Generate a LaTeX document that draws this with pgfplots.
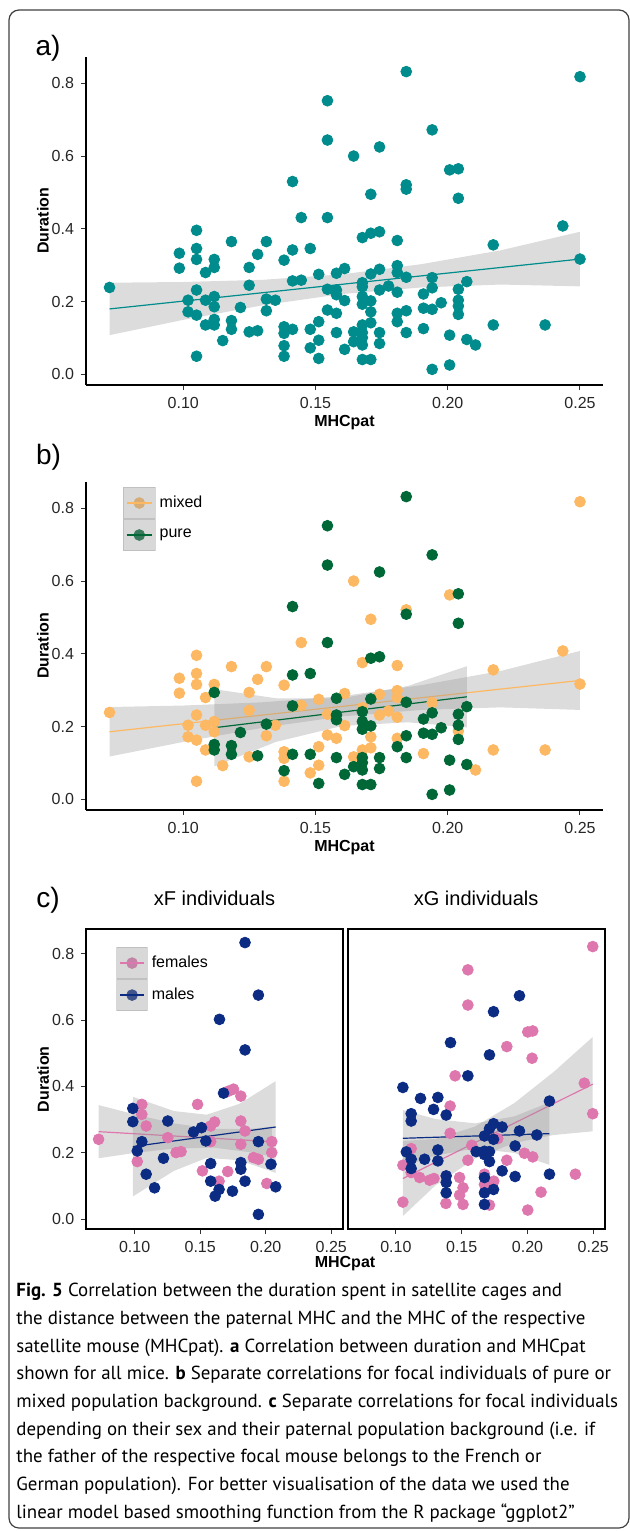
\documentclass[border=0pt]{standalone}
\usepackage{pgfplots}
\pgfplotsset{compat=1.18}
\usepackage{pgfplotstable}
\usepackage{fontspec}
\setmainfont{Liberation Sans}
\newfontfamily\capfont{PT Sans}

\definecolor{tealc}{RGB}{0,140,140}
\definecolor{mixedc}{RGB}{253,184,99}
\definecolor{purec}{RGB}{0,104,55}
\definecolor{femc}{RGB}{222,119,174}
\definecolor{malec}{RGB}{12,44,132}
\definecolor{bandc}{RGB}{153,153,153}

% mixed / pure population background (panel a uses both)
\pgfplotstableread{
x y
0.0721 0.239
0.0985 0.333
0.0985 0.292
0.1018 0.204
0.1018 0.172
0.1050 0.396
0.1050 0.346
0.1050 0.316
0.1050 0.232
0.1050 0.163
0.1050 0.050
0.1084 0.280
0.1084 0.204
0.1084 0.136
0.1117 0.316
0.1117 0.214
0.1117 0.186
0.1149 0.093
0.1182 0.365
0.1249 0.294
0.1249 0.245
0.1249 0.117
0.1281 0.330
0.1314 0.365
0.1314 0.175
0.1348 0.204
0.1381 0.314
0.1381 0.131
0.1381 0.113
0.1381 0.050
0.1446 0.431
0.1446 0.259
0.1480 0.073
0.1512 0.275
0.1512 0.145
0.1512 0.094
0.1545 0.234
0.1545 0.177
0.1579 0.168
0.1610 0.291
0.1610 0.203
0.1644 0.600
0.1644 0.117
0.1677 0.376
0.1677 0.252
0.1677 0.136
0.1709 0.495
0.1709 0.172
0.1709 0.142
0.1742 0.289
0.1742 0.232
0.1776 0.243
0.1809 0.368
0.1809 0.299
0.1809 0.280
0.1809 0.226
0.1809 0.168
0.1843 0.521
0.1908 0.126
0.1941 0.266
0.2007 0.562
0.2040 0.188
0.2105 0.081
0.2172 0.356
0.2172 0.136
0.2368 0.136
0.2435 0.408
0.2500 0.818
0.2500 0.317
}\mixed

\pgfplotstableread{
x y
0.1117 0.294
0.1117 0.151
0.1117 0.136
0.1182 0.148
0.1182 0.124
0.1216 0.184
0.1281 0.120
0.1314 0.207
0.1381 0.079
0.1413 0.530
0.1413 0.342
0.1413 0.257
0.1413 0.124
0.1480 0.346
0.1480 0.124
0.1512 0.044
0.1545 0.752
0.1545 0.644
0.1545 0.431
0.1579 0.278
0.1579 0.232
0.1579 0.219
0.1579 0.115
0.1610 0.069
0.1644 0.090
0.1677 0.241
0.1677 0.214
0.1677 0.193
0.1677 0.115
0.1677 0.101
0.1677 0.081
0.1677 0.041
0.1709 0.388
0.1709 0.276
0.1709 0.202
0.1709 0.041
0.1742 0.625
0.1742 0.392
0.1742 0.115
0.1742 0.085
0.1809 0.145
0.1843 0.832
0.1843 0.509
0.1843 0.267
0.1843 0.175
0.1843 0.115
0.1908 0.221
0.1908 0.182
0.1941 0.672
0.1941 0.238
0.1941 0.179
0.1941 0.014
0.1975 0.197
0.2007 0.108
0.2007 0.026
0.2040 0.565
0.2040 0.484
0.2040 0.234
0.2040 0.204
0.2040 0.165
0.2072 0.255
0.2072 0.096
}\pure

% xF individuals
\pgfplotstableread{
x y
0.0725 0.241
0.1055 0.346
0.1055 0.316
0.1088 0.281
0.1020 0.174
0.1253 0.246
0.1316 0.201
0.1354 0.204
0.1480 0.346
0.1517 0.146
0.1580 0.281
0.1610 0.293
0.1580 0.234
0.1644 0.115
0.1710 0.144
0.1716 0.386
0.1754 0.392
0.1810 0.371
0.1810 0.296
0.1842 0.266
0.1810 0.226
0.1906 0.186
0.1944 0.181
0.2046 0.234
0.2046 0.201
0.2008 0.108
}\xFf

\pgfplotstableread{
x y
0.0986 0.334
0.0986 0.294
0.1055 0.234
0.1020 0.206
0.1088 0.136
0.1152 0.095
0.1220 0.184
0.1253 0.296
0.1449 0.263
0.1510 0.276
0.1543 0.236
0.1580 0.168
0.1580 0.115
0.1614 0.070
0.1644 0.090
0.1647 0.602
0.1678 0.380
0.1746 0.085
0.1842 0.833
0.1842 0.510
0.1810 0.171
0.1810 0.151
0.1842 0.115
0.1944 0.675
0.1944 0.015
0.1944 0.234
0.2040 0.166
0.2076 0.098
}\xFm

% xG individuals
\pgfplotstableread{
x y
0.2496 0.821
0.1547 0.751
0.1547 0.645
0.2002 0.564
0.2040 0.567
0.1843 0.520
0.2035 0.485
0.1450 0.432
0.2432 0.410
0.1412 0.341
0.2496 0.318
0.1412 0.259
0.1577 0.223
0.1774 0.243
0.1116 0.213
0.1053 0.163
0.1116 0.141
0.1180 0.126
0.1256 0.118
0.1289 0.123
0.1547 0.178
0.1843 0.178
0.1977 0.199
0.2040 0.188
0.1484 0.126
0.1510 0.095
0.1484 0.073
0.1380 0.048
0.1510 0.045
0.1673 0.136
0.1744 0.115
0.1673 0.105
0.1711 0.043
0.1053 0.052
0.2103 0.082
0.2002 0.028
0.2364 0.136
}\xGf

\pgfplotstableread{
x y
0.1939 0.673
0.1742 0.625
0.1415 0.532
0.1711 0.495
0.1547 0.432
0.1053 0.397
0.1187 0.364
0.1319 0.367
0.1286 0.331
0.1382 0.314
0.1116 0.318
0.1116 0.296
0.2167 0.356
0.1742 0.288
0.1807 0.278
0.1711 0.273
0.1673 0.251
0.1939 0.266
0.2071 0.254
0.1906 0.221
0.1742 0.241
0.1610 0.204
0.1673 0.205
0.1711 0.204
0.1673 0.195
0.1319 0.209
0.1218 0.181
0.1319 0.176
0.1079 0.203
0.1116 0.181
0.1116 0.153
0.1711 0.174
0.1807 0.146
0.1906 0.129
0.2167 0.136
0.1382 0.131
0.1382 0.111
0.1382 0.080
0.1673 0.126
0.1742 0.090
0.1673 0.080
0.1673 0.045
}\xGm

\pgfplotsset{
  gg/.style={
    scale only axis,
    xmin=0.0632, xmax=0.2587, ymin=-0.029, ymax=0.873,
    xtick={0.10,0.15,0.20,0.25}, xticklabels={0.10,0.15,0.20,0.25},
    ytick={0,0.2,0.4,0.6,0.8}, yticklabels={0.0,0.2,0.4,0.6,0.8},
    tick align=outside, major tick length=2.5pt,
    tick style={black!80, line width=0.5pt},
    tick label style={font=\fontsize{8}{9.6}\selectfont, black!85},
    label style={font=\bfseries\fontsize{8}{9.6}\selectfont},
    clip=false,
  },
  classic/.style={gg, axis lines*=left, axis line style={line width=0.55pt},
    width=258.5pt, height=164.15pt,
    xlabel={MHCpat}, ylabel={Duration},
    xlabel style={at={(axis description cs:0.5,0)}, anchor=center, yshift=-19pt},
    ylabel style={at={(axis description cs:-0.0832,0.5)}, anchor=center},
  },
  facet/.style={gg, axis line style={line width=1pt}, xtick pos=bottom, ytick pos=left,
    height=149.85pt,
    title style={at={(0.5,1)}, anchor=base, yshift=6pt, inner sep=0pt,
      font=\fontsize{10}{12}\selectfont},
  },
  pts/.style={only marks, mark=*, mark size=2.7pt, color=#1, forget plot},
  band/.style={draw=none, fill=bandc, fill opacity=0.34, forget plot},
  fit/.style={#1, line width=0.6pt, forget plot},
  keyleg/.style={legend style={at={#1}, anchor=north west, draw=none, fill=none,
    inner sep=0pt, row sep=0pt, column sep=2pt, nodes={inner sep=0pt},
    font=\fontsize{8}{9.6}\selectfont}, legend cell align=left},
}
\newcommand{\keyimg}[2]{\addlegendimage{legend image code/.code={
  \fill[white] (0pt,-7.8pt) rectangle (#2,7.8pt);
  \fill[#1] (0.5*#2,0pt) circle (2.7pt);
  \fill[bandc, opacity=0.38] (0pt,-7.8pt) rectangle (#2,7.8pt);
  \draw[#1, line width=0.6pt] (1.6pt,0pt) -- (#2-1.6pt,0pt);}}}

\begin{document}
\begin{tikzpicture}
\useasboundingbox (0,0) rectangle (315pt,-765.5pt);
\draw[black!75, line width=0.6pt, rounded corners=5pt] (4.5pt,-5pt) rectangle (314.5pt,-764pt);

\node[font=\fontsize{14}{16}\selectfont] at (24pt,-24pt) {a)};
\node[font=\fontsize{14}{16}\selectfont] at (24.25pt,-228.75pt) {b)};
\node[font=\fontsize{14}{16}\selectfont] at (24pt,-450pt) {c)};

% ---- a) all mice
\begin{axis}[classic, at={(43pt,-192.5pt)}, anchor=south west]
\addplot[pts=tealc] table {\mixed};
\addplot[pts=tealc] table {\pure};
\addplot[band] coordinates {(0.0721,0.252) (0.10,0.254) (0.13,0.260) (0.16,0.275) (0.19,0.303) (0.22,0.341) (0.25,0.392)
  (0.25,0.242) (0.22,0.247) (0.19,0.239) (0.16,0.221) (0.13,0.190) (0.10,0.150) (0.0721,0.108)};
\addplot[fit=tealc] coordinates {(0.0721,0.180) (0.25,0.317)};
\end{axis}

% ---- b) mixed vs pure
\begin{axis}[classic, at={(43pt,-405pt)}, anchor=south west, keyleg={(0.0706,0.985)}]
\keyimg{mixedc}{16pt}\addlegendentry{mixed}
\keyimg{purec}{16pt}\addlegendentry{pure}
\addplot[pts=mixedc] table {\mixed};
\addplot[pts=purec] table {\pure};
\addplot[band] coordinates {(0.0721,0.254) (0.10,0.258) (0.13,0.267) (0.16,0.284) (0.19,0.314) (0.22,0.353) (0.25,0.408)
  (0.25,0.246) (0.22,0.253) (0.19,0.246) (0.16,0.228) (0.13,0.197) (0.10,0.158) (0.0721,0.118)};
\addplot[fit=mixedc] coordinates {(0.0721,0.186) (0.25,0.327)};
\addplot[band] coordinates {(0.1117,0.303) (0.135,0.278) (0.16,0.278) (0.185,0.312) (0.2072,0.366)
  (0.2072,0.198) (0.185,0.212) (0.16,0.202) (0.135,0.158) (0.1117,0.091)};
\addplot[fit=purec] coordinates {(0.1117,0.197) (0.2072,0.282)};
\end{axis}

% ---- c) xF individuals
\begin{axis}[facet, width=128.15pt, at={(43.2pt,-614.5pt)}, anchor=south west,
  title={xF individuals}, xlabel={MHCpat}, ylabel={Duration},
  xlabel style={at={(axis description cs:1.009,0)}, anchor=center, yshift=-17.5pt},
  ylabel style={at={(axis description cs:-0.169,0.5)}, anchor=center},
  keyleg={(0.1155,0.942)}]
\keyimg{femc}{15.3pt}\addlegendentry{females}
\keyimg{malec}{15.3pt}\addlegendentry{males}
\addplot[pts=femc] table {\xFf};
\addplot[pts=malec] table {\xFm};
\addplot[band] coordinates {(0.0725,0.344) (0.10,0.316) (0.13,0.289) (0.16,0.272) (0.19,0.273) (0.2046,0.279)
  (0.2046,0.189) (0.19,0.201) (0.16,0.216) (0.13,0.213) (0.10,0.200) (0.0725,0.184)};
\addplot[fit=femc] coordinates {(0.0725,0.264) (0.2046,0.234)};
\addplot[band] coordinates {(0.0986,0.369) (0.13,0.326) (0.155,0.315) (0.18,0.348) (0.2076,0.416)
  (0.2076,0.140) (0.18,0.178) (0.155,0.185) (0.13,0.146) (0.0986,0.069)};
\addplot[fit=malec] coordinates {(0.0986,0.219) (0.2076,0.278)};
\end{axis}

% ---- c) xG individuals
\begin{axis}[facet, width=128.6pt, at={(173.75pt,-614.5pt)}, anchor=south west,
  title={xG individuals}, ytick=\empty]
\addplot[pts=femc] table {\xGf};
\addplot[pts=malec] table {\xGm};
\addplot[band] coordinates {(0.1053,0.236) (0.13,0.242) (0.16,0.279) (0.19,0.350) (0.22,0.444) (0.2496,0.549)
  (0.2496,0.265) (0.22,0.254) (0.19,0.230) (0.16,0.183) (0.13,0.102) (0.1053,0.010)};
\addplot[fit=femc] coordinates {(0.1053,0.123) (0.2496,0.407)};
\addplot[band] coordinates {(0.1053,0.329) (0.13,0.302) (0.16,0.289) (0.19,0.310) (0.2167,0.352)
  (0.2167,0.164) (0.19,0.200) (0.16,0.213) (0.13,0.192) (0.1053,0.159)};
\addplot[fit=malec] coordinates {(0.1053,0.244) (0.2167,0.258)};
\end{axis}

% ---- caption
\begin{scope}[every node/.style={anchor=base west, inner sep=0pt, font=\capfont\fontsize{9.45}{12}\selectfont}]
\node at (8pt,-648.35pt) {\textbf{Fig. 5} Correlation between the duration spent in satellite cages and};
\node at (8pt,-662.2pt) {the distance between the paternal MHC and the MHC of the respective};
\node at (8pt,-676.05pt) {satellite mouse (MHCpat). \textbf{a} Correlation between duration and MHCpat};
\node at (8pt,-689.9pt) {shown for all mice. \textbf{b} Separate correlations for focal individuals of pure or};
\node at (8pt,-703.75pt) {mixed population background. \textbf{c} Separate correlations for focal individuals};
\node at (8pt,-717.6pt) {depending on their sex and their paternal population background (i.e. if};
\node at (8pt,-731.45pt) {the father of the respective focal mouse belongs to the French or};
\node at (8pt,-745.3pt) {German population). For better visualisation of the data we used the};
\node at (8pt,-759.15pt) {linear model based smoothing function from the R package “ggplot2”};
\end{scope}
\end{tikzpicture}
\end{document}
